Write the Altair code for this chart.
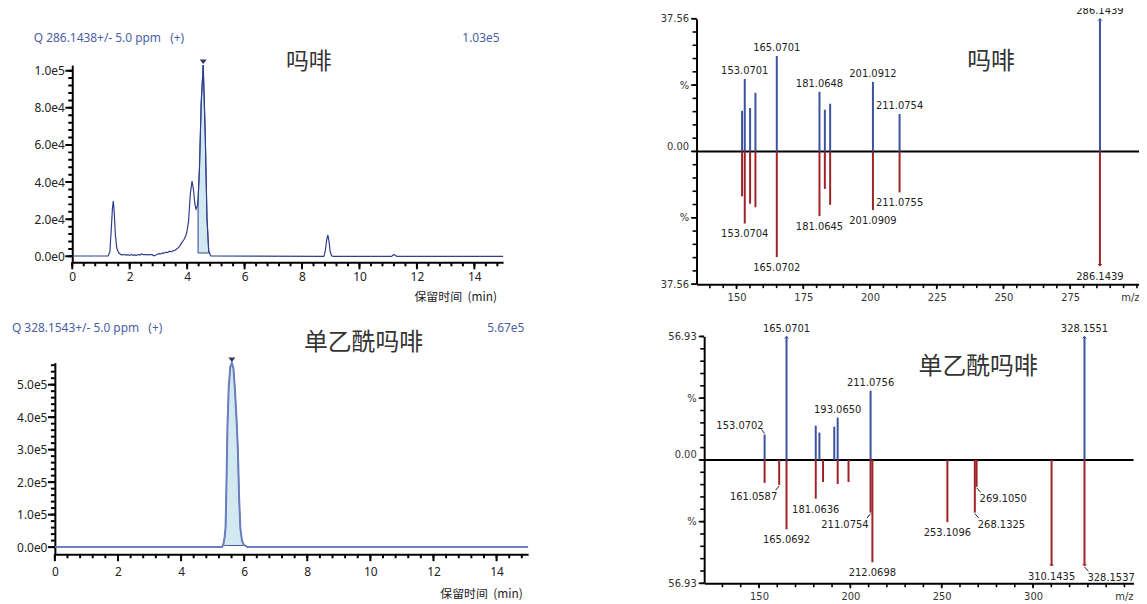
import altair as alt
import pandas as pd

W, H = 1139, 596
NB = "\u00a0"

# ---------------- chromatogram 1 : 吗啡 ----------------
c1_t = [0.0, 1.25, 1.31, 1.36, 1.40, 1.43, 1.46, 1.50, 1.55, 1.62, 1.70, 1.76, 1.82, 1.88, 1.94,
        2.00, 2.06, 2.12, 2.18, 2.24, 2.30, 2.36, 2.42, 2.48, 2.55, 2.62, 2.70, 2.78, 2.84, 2.90,
        2.96, 3.02, 3.08, 3.14, 3.20, 3.26, 3.32, 3.38, 3.44, 3.50, 3.58, 3.66, 3.74, 3.82, 3.88,
        3.94, 3.99, 4.05, 4.11, 4.17, 4.22, 4.27, 4.31, 4.35, 4.38, 4.43, 4.49, 4.56, 4.63, 4.69,
        4.75, 4.82, 8.76, 8.81, 8.86, 8.90, 8.94, 8.98, 9.03, 9.08, 11.12, 11.18, 11.24, 11.30, 15.0]
c1_i = [200, 200, 2500, 15000, 26000, 29800, 24000, 12000, 4500, 1800, 900, 800, 1000, 700, 900,
        500, 1000, 600, 800, 500, 1000, 700, 1300, 900, 1000, 800, 900, 900, 300, 600,
        1100, 1500, 1300, 1900, 1700, 2300, 2000, 2800, 2400, 3000, 3300, 4200, 5500, 7500, 8800,
        10500, 13000, 19000, 33500, 40500, 36000, 28000, 25500, 27000, 30000, 48000, 83000, 103000, 66000, 21000,
        3000, 200, 0, 3000, 9000, 11500, 8000, 2500, 300, 0, 0, 900, 700, 0, 0]
c1_window = [4.38, 4.75]
c1_base = [1800]
c1_title = f"Q 286.1438+/- 5.0 ppm{NB}{NB}{NB}(+)"
c1_maxtxt = "1.03e5"
c1_name = "吗啡"
c1_ymajor = [0, 20000, 40000, 60000, 80000, 100000]
c1_yminor = [4000 * k for k in range(26)]

# ---------------- chromatogram 2 : 单乙酰吗啡 ----------------
c2_t = [0.0, 5.30, 5.34, 5.38, 5.41, 5.44, 5.47, 5.51, 5.56, 5.61, 5.66, 5.71, 5.76, 5.80,
        5.84, 5.88, 5.93, 5.99, 6.05, 6.10, 15.0]
c2_i = [0, 0, 8000, 30000, 60000, 200000, 370000, 490000, 555000, 567000, 550000, 480000, 390000, 300000,
        150000, 57000, 20000, 6000, 4000, 0, 0]
c2_window = [5.34, 6.05]
c2_base = [5000]
c2_title = f"Q 328.1543+/- 5.0 ppm{NB}{NB}{NB}(+)"
c2_maxtxt = "5.67e5"
c2_name = "单乙酰吗啡"
c2_ymajor = [0, 100000, 200000, 300000, 400000, 500000]
c2_yminor = [20000 * k for k in range(29)]

x_title = f"保留时间{NB}{NB}(min)"
t_major = [0, 2, 4, 6, 8, 10, 12, 14]
t_minor = [round(0.4 * k, 1) for k in range(38)]

# ---------------- mirror spectrum 1 ----------------
m1_top_mz = [152.06, 153.0701, 155.07, 157.07, 165.0701, 181.0648, 183.08, 185.06, 201.0912, 211.0754, 286.1439]
m1_top_v = [11.5, 20.5, 12.3, 16.6, 27.0, 16.9, 11.8, 13.5, 19.7, 10.6, 37.56]
m1_top_lbl = ["", "153.0701", "", "", "165.0701", "181.0648", "", "", "201.0912", "211.0754", "286.1439"]
m1_top_pos = ["", "up", "", "", "up", "up", "", "", "up", "up", "up"]
m1_top_clip = [0, 0, 0, 0, 0, 0, 0, 0, 0, 0, 1]
m1_bot_mz = [152.06, 153.0704, 155.07, 157.07, 165.0702, 181.0645, 183.08, 185.06, 201.0909, 211.0755, 286.1439]
m1_bot_v = [12.7, 20.4, 14.8, 15.8, 29.9, 18.3, 10.6, 15.1, 16.6, 11.6, 32.4]
m1_bot_lbl = ["", "153.0704", "", "", "165.0702", "181.0645", "", "", "201.0909", "211.0755", "286.1439"]
m1_bot_pos = ["", "down", "", "", "down", "down", "", "", "down", "down", "down"]
m1_bot_clip = [0, 0, 0, 0, 0, 0, 0, 0, 0, 0, 1]
m1_ymax = 37.56
m1_ymax_txt = "37.56"
m1_name = "吗啡"
m1_xmajor = [150, 175, 200, 225, 250, 275]
m1_xminor = list(range(140, 301, 5))

# ---------------- mirror spectrum 2 ----------------
m2_top_mz = [153.0702, 165.0701, 181.06, 183.08, 191.2, 193.0650, 211.0756, 328.1551]
m2_top_v = [11.7, 56.93, 15.8, 12.6, 15.3, 19.5, 31.9, 56.93]
m2_top_lbl = ["153.0702", "165.0701", "", "", "", "193.0650", "211.0756", "328.1551"]
m2_top_pos = ["upleft", "up", "", "", "", "up", "up", "up"]
m2_top_clip = [0, 1, 0, 0, 0, 0, 0, 1]
m2_bot_mz = [153.07, 161.0587, 165.0692, 181.0636, 185.06, 193.07, 199.0, 211.0754, 212.0698,
             253.1096, 268.1325, 269.1050, 310.1435, 328.1537]
m2_bot_v = [10.6, 11.5, 32.0, 17.9, 10.2, 11.1, 10.2, 24.3, 47.2, 28.7, 24.3, 12.4, 48.9, 48.9]
m2_bot_lbl = ["", "161.0587", "165.0692", "181.0636", "", "", "", "211.0754", "212.0698",
              "253.1096", "268.1325", "269.1050", "310.1435", "328.1537"]
m2_bot_pos = ["", "downleft", "down", "down", "", "", "", "downleft", "down",
              "down", "downright", "downright", "down", "downright"]
m2_bot_clip = [0, 0, 0, 0, 0, 0, 0, 0, 0, 0, 0, 0, 1, 1]
m2_ymax = 56.93
m2_ymax_txt = "56.93"
m2_name = "单乙酰吗啡"
m2_xmajor = [150, 200, 250, 300]
m2_xminor = list(range(130, 351, 10))

# ---------------- styles ----------------
TXT_BLUE = "#4a60a6"
LINE_DARK = "#2f3f8c"
LINE_LIGHT = "#6b7fbf"
FILL = "#d3e9f1"
MS_BLUE = "#3b52a0"
MS_RED = "#9d2328"
MARK_TRI = "#2b3463"
TICK = "#000000"
LAT = "Noto Sans"
CJK = "Noto Sans CJK SC"
MSF = "DejaVu Sans"


def ticks_bottom(vals, edge, xs, ys, size, width):
    df = pd.DataFrame({"v": vals, "e": [edge] * len(vals)})
    return alt.Chart(df).mark_tick(color=TICK, thickness=width, size=size, opacity=1,
                                   orient="vertical", yOffset=size / 2).encode(
        x=alt.X("v:Q", scale=xs, axis=None), y=alt.Y("e:Q", scale=ys, axis=None))


def ticks_left(vals, edge, xs, ys, size, width):
    df = pd.DataFrame({"v": vals, "e": [edge] * len(vals)})
    return alt.Chart(df).mark_tick(color=TICK, thickness=width, size=size, opacity=1,
                                   orient="horizontal", xOffset=-size / 2).encode(
        x=alt.X("e:Q", scale=xs, axis=None), y=alt.Y("v:Q", scale=ys, axis=None))


def chrom_panel(t, i, window, base, xdom, xrng, ydom, yrng, ymaj, ymin, xoff, yoff,
                title_x, title_y, xpad, line_color, line_width):
    df = pd.DataFrame({"t": t, "i": i})
    xs = alt.Scale(domain=xdom, range=xrng, nice=False, zero=False)
    ys = alt.Scale(domain=ydom, range=yrng, nice=False, zero=False)
    xa = alt.Axis(orient="bottom", offset=xoff, values=t_major, grid=False, format="d",
                  ticks=False, domainColor="black", domainWidth=2, labelFlush=False, labelOverlap=False,
                  labelFont=LAT, labelFontSize=12, labelColor="#222", labelPadding=xpad + 6,
                  title=x_title, titleFont=CJK, titleFontSize=12, titleFontWeight="normal",
                  titleColor="#222", titleAnchor="end", titleAlign="right", titleBaseline="middle",
                  titleX=title_x, titleY=title_y)
    ya = alt.Axis(orient="left", offset=yoff, values=ymaj, grid=False,
                  labelExpr="replace(format(datum.value, '.1e'), '+', '')",
                  ticks=False, domainColor="black", domainWidth=2, labelFlush=False, labelOverlap=False,
                  labelFont=LAT, labelFontSize=12, labelColor="#222", labelPadding=8,
                  title=None)
    area = alt.Chart(df).transform_filter(
        f"datum.t >= {window[0]} && datum.t <= {window[1]}"
    ).mark_area(color=FILL, opacity=1, stroke=LINE_DARK, strokeWidth=1).encode(
        x=alt.X("t:Q", scale=xs, axis=xa), y=alt.Y("i:Q", scale=ys, axis=ya),
        y2=alt.datum(base[0]))
    line = alt.Chart(df).mark_line(color=line_color, strokeWidth=line_width).encode(
        x=alt.X("t:Q", scale=xs, axis=None), y=alt.Y("i:Q", scale=ys, axis=None))
    k = max(range(len(i)), key=lambda j: i[j])
    pk = pd.DataFrame({"t": [t[k]], "i": [i[k]]})
    tri = alt.Chart(pk).mark_point(shape="M-1,-1.3L1,-1.3L0,0Z", filled=True, size=49,
                                   color=MARK_TRI, opacity=1, strokeWidth=0, yOffset=-1).encode(
        x=alt.X("t:Q", scale=xs, axis=None), y=alt.Y("i:Q", scale=ys, axis=None))
    tk = [
        ticks_bottom(t_minor, ydom[0], xs, ys, 4, 2),
        ticks_bottom(t_major, ydom[0], xs, ys, 7, 2),
        ticks_left(ymin, xdom[0], xs, ys, 4, 2),
        ticks_left(ymaj, xdom[0], xs, ys, 7, 2),
    ]
    return alt.layer(area, line, tri, *tk).resolve_axis(x="independent", y="independent")


def ms_panel(top, bot, xdom, xrng, ydom, yrng, xmaj, xmin, xoff, yoff, ymax_txt, title_x):
    top_df = pd.DataFrame(top)
    bot_df = pd.DataFrame(bot)
    xs = alt.Scale(domain=xdom, range=xrng, nice=False, zero=False)
    ys = alt.Scale(domain=ydom, range=yrng, nice=False, zero=False)
    step = ydom[1] / 10
    ymaj = [round(k * step, 4) for k in (-10, -5, 0, 5, 10)]
    ymin = [round(k * step, 4) for k in range(-10, 11)]
    kk = f"round(datum.value/{step})"
    xa = alt.Axis(orient="bottom", offset=xoff, values=xmaj, grid=False, format="d",
                  ticks=False, domainColor="black", domainWidth=2, labelFlush=False, labelOverlap=False,
                  labelFont=MSF, labelFontSize=10, labelColor="#333", labelPadding=8,
                  title="m/z", titleFont=MSF, titleFontSize=10, titleFontWeight="normal",
                  titleColor="#333", titleAlign="right", titleAnchor="end", titleBaseline="middle",
                  titleX=title_x, titleY=13)
    ya = alt.Axis(orient="left", offset=yoff, values=ymaj, grid=False,
                  labelExpr=(f"abs({kk})==10 ? '{ymax_txt}' : ({kk}==0 ? '0.00' : '%')"),
                  labelBaseline=alt.condition(f"{kk}==0", alt.value("bottom"), alt.value("middle")),
                  ticks=False, domainColor="black", domainWidth=2, labelFlush=False, labelOverlap=False,
                  labelFont=MSF, labelFontSize=10, labelColor="#333", labelPadding=8,
                  title=None)
    Xn = alt.X("mz:Q", scale=xs, axis=None)
    Ytn = alt.Y("v:Q", scale=ys, axis=None)
    Ybn = alt.Y("nv:Q", scale=ys, axis=None)

    zdf = pd.DataFrame({"mz": [xdom[0]], "mz2": [xdom[1]], "v": [0]})
    zero = alt.Chart(zdf).mark_rule(color="black", strokeWidth=2).encode(
        x=alt.X("mz:Q", scale=xs, axis=xa), x2="mz2:Q", y=alt.Y("v:Q", scale=ys, axis=ya))

    tb = alt.Chart(top_df).mark_rule(color=MS_BLUE, strokeWidth=2).encode(x=Xn, y=Ytn, y2=alt.datum(0))
    bb = alt.Chart(bot_df).transform_calculate(nv="-datum.v").mark_rule(
        color=MS_RED, strokeWidth=2).encode(x=Xn, y=Ybn, y2=alt.datum(0))
    ta = alt.Chart(top_df).transform_filter("datum.clip == 1").mark_point(
        shape="M-1,1L0,0L1,1", size=16, filled=False, color=MS_BLUE, strokeWidth=1, opacity=1
    ).encode(x=Xn, y=Ytn)
    ba = alt.Chart(bot_df).transform_calculate(nv="-datum.v").transform_filter("datum.clip == 1").mark_point(
        shape="M-1,-1L0,0L1,-1", size=16, filled=False, color=MS_RED, strokeWidth=1, opacity=1
    ).encode(x=Xn, y=Ybn)

    layers = [zero, tb, bb, ta, ba,
              ticks_bottom(xmin, ydom[0], xs, ys, 4, 1.6),
              ticks_bottom(xmaj, ydom[0], xs, ys, 5, 1.6),
              ticks_left(ymin, xdom[0], xs, ys, 4, 1.6),
              ticks_left(ymaj, xdom[0], xs, ys, 5.5, 1.6)]
    place = {
        "up": dict(align="center", dx=0, dy=-5),
        "down": dict(align="center", dx=0, dy=14),
        "upleft": dict(align="right", dx=-1, dy=-6),
        "downleft": dict(align="right", dx=-2, dy=15.5),
        "downright": dict(align="left", dx=3, dy=15.5),
    }
    leader = {
        "upleft": dict(xOffset=0, x2Offset=-3, yOffset=-1, y2Offset=-5),
        "downleft": dict(xOffset=0, x2Offset=-3.5, yOffset=1, y2Offset=5.5),
        "downright": dict(xOffset=0, x2Offset=4, yOffset=1, y2Offset=5.5),
    }
    for df, Y, calc in ((top_df, Ytn, False), (bot_df, Ybn, True)):
        for p, kw in place.items():
            if p not in set(df["pos"]):
                continue
            base = alt.Chart(df)
            if calc:
                base = base.transform_calculate(nv="-datum.v")
            base = base.transform_filter(f"datum.pos == '{p}'")
            layers.append(base.mark_text(baseline="alphabetic", font=MSF, fontSize=10,
                                         color="#222", **kw).encode(x=Xn, y=Y, text="lbl:N"))
            if p in leader:
                yf = "nv" if calc else "v"
                layers.append(base.mark_rule(color="#222", strokeWidth=1, **leader[p]).encode(
                    x=Xn, x2="mz:Q", y=Y, y2=f"{yf}:Q"))
    return alt.layer(*layers).resolve_axis(x="independent", y="independent")


def note(s, x, y, size, color, font, align="left"):
    return alt.Chart(pd.DataFrame({"s": [s]})).mark_text(
        align=align, baseline="middle", fontSize=size, color=color, font=font
    ).encode(x=alt.value(x), y=alt.value(y), text="s:N")


p1 = chrom_panel(c1_t, c1_i, c1_window, c1_base, [0, 15], [64.7, 498.6], [-3200, 103000], [254, 55.4],
                 c1_ymajor, c1_yminor, 254 - H, -64.7, 492, 34, 3, LINE_DARK, 1.2)
p2 = chrom_panel(c2_t, c2_i, c2_window, c2_base, [0, 15], [47.2, 523.8], [-22000, 568000], [548, 355],
                 c2_ymajor, c2_yminor, 548 - H, -47.2, 518, 40, 6, LINE_LIGHT, 2)

m1 = ms_panel(dict(mz=m1_top_mz, v=m1_top_v, lbl=m1_top_lbl, pos=m1_top_pos, clip=m1_top_clip),
              dict(mz=m1_bot_mz, v=m1_bot_v, lbl=m1_bot_lbl, pos=m1_bot_pos, clip=m1_bot_clip),
              [135, 301], [693.4, 1139.6], [-m1_ymax, m1_ymax], [276, 8.7],
              m1_xmajor, m1_xminor, 276 - H, -693.4, m1_ymax_txt, 1139)
m2 = ms_panel(dict(mz=m2_top_mz, v=m2_top_v, lbl=m2_top_lbl, pos=m2_top_pos, clip=m2_top_clip),
              dict(mz=m2_bot_mz, v=m2_bot_v, lbl=m2_bot_lbl, pos=m2_bot_pos, clip=m2_bot_clip),
              [120, 355], [701.1, 1133.5], [-m2_ymax, m2_ymax], [577.3, 328.7],
              m2_xmajor, m2_xminor, 577.3 - H, -701.1, m2_ymax_txt, 1133)

notes = [
    note(c1_title, 26, 28, 12, TXT_BLUE, LAT),
    note(c1_maxtxt, 495, 28, 12, TXT_BLUE, LAT, "right"),
    note(c1_name, 303, 52, 23, "#333", CJK, "center"),
    note(c2_title, 4, 320, 12, TXT_BLUE, LAT),
    note(c2_maxtxt, 520, 320, 12, TXT_BLUE, LAT, "right"),
    note(c2_name, 358, 335, 24, "#333", CJK, "center"),
    note(m1_name, 990, 52, 24, "#333", CJK, "center"),
    note(m2_name, 977, 359, 24, "#333", CJK, "center"),
]

chart = alt.layer(p1, p2, m1, m2, *notes).resolve_scale(
    x="independent", y="independent"
).properties(
    width=W, height=H, padding=0, autosize=alt.AutoSizeParams(type="none")
).configure_view(stroke=None)

chart.save("out.html", embed_options={"renderer": "svg", "actions": False})
